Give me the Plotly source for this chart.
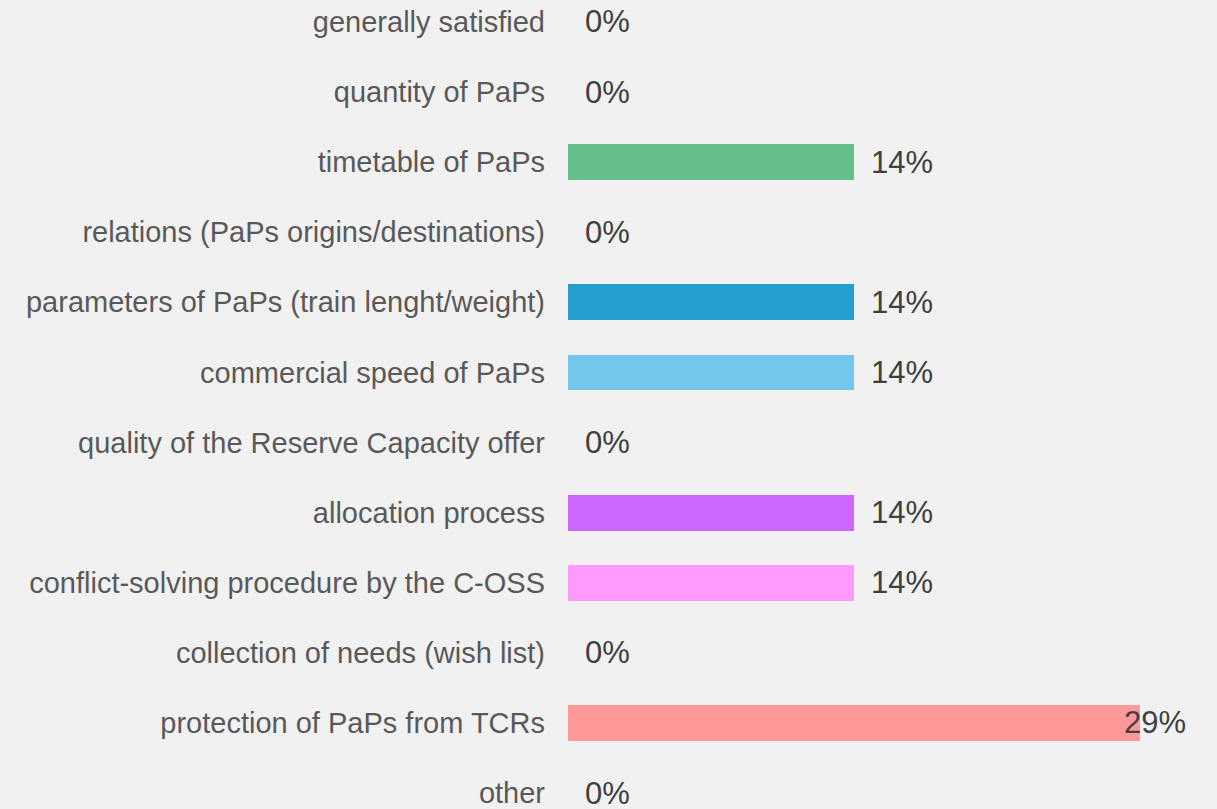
import plotly.graph_objects as go

categories = [
    "generally satisfied",
    "quantity of PaPs",
    "timetable of PaPs",
    "relations (PaPs origins/destinations)",
    "parameters of PaPs (train lenght/weight)",
    "commercial speed of PaPs",
    "quality of the Reserve Capacity offer",
    "allocation process",
    "conflict-solving procedure by the C-OSS",
    "collection of needs (wish list)",
    "protection of PaPs from TCRs",
    "other",
]
values = [0, 0, 14.29, 0, 14.29, 14.29, 0, 14.29, 14.29, 0, 28.57, 0]
value_labels = ["0%", "0%", "14%", "0%", "14%", "14%", "0%", "14%", "14%", "0%", "29%", "0%"]
colors = ["#8fa8c8", "#f5b85a", "#64bf8b", "#a0a0a0", "#239ecd", "#74c6ea",
          "#ffd966", "#cc66ff", "#ff99ff", "#b0b0b0", "#ff9999", "#c0c0c0"]

fig = go.Figure(go.Bar(
    x=values, y=categories, orientation="h",
    marker=dict(color=colors, line=dict(width=0)),
    width=0.51, hoverinfo="skip",
))

max_v = max(values)
for cat, v, lab in zip(categories, values, value_labels):
    if v == max_v:
        anchor, shift = "right", 48
    else:
        anchor, shift = "left", 15
    fig.add_annotation(x=v, y=cat, text=lab, showarrow=False,
                       xanchor=anchor, yanchor="middle", xshift=shift,
                       font=dict(family="Liberation Sans, Arial, sans-serif", size=31, color="#404040"))

fig.update_layout(
    width=1217, height=809,
    margin=dict(l=568, r=48, t=0, b=0),
    paper_bgcolor="#f1f1f1", plot_bgcolor="#f1f1f1",
    showlegend=False,
    bargap=0,
)
fig.update_xaxes(range=[0, 30], visible=False, fixedrange=True)
fig.update_yaxes(
    categoryorder="array", categoryarray=categories,
    range=[11.185, -0.3127],
    showgrid=False, zeroline=False, showline=False, ticks="",
    ticklabelstandoff=22,
    tickfont=dict(family="Liberation Sans, Arial, sans-serif", size=29, color="#595959"),
)

fig.write_html("out.html", config={"displayModeBar": False},
               post_script="document.body.style.margin='0';document.body.style.background='#f1f1f1';")
